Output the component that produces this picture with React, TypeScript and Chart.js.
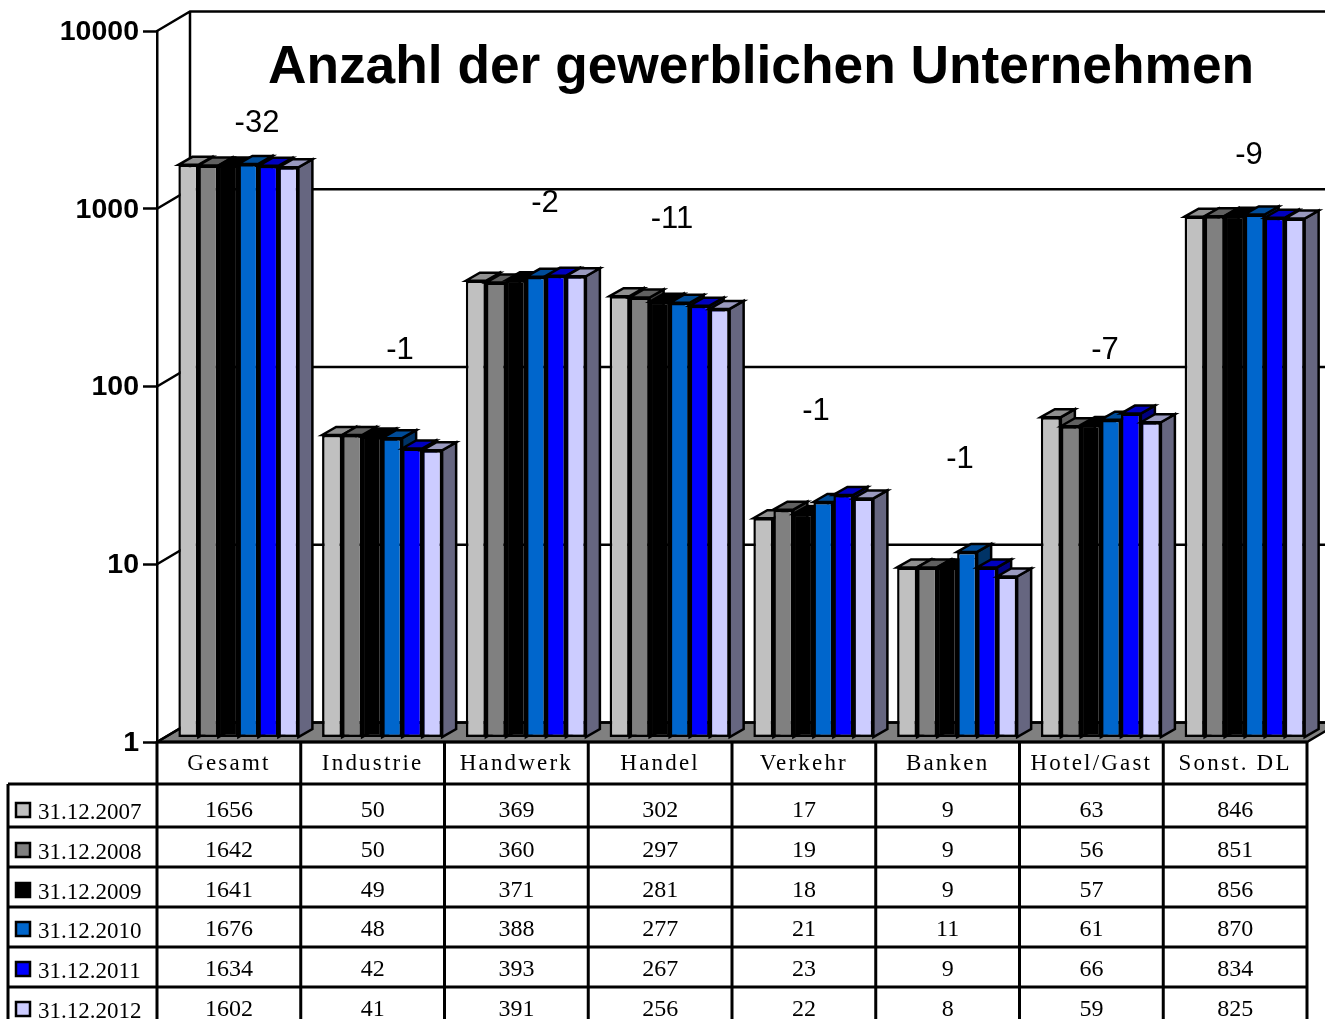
import React, { useEffect, useRef } from "react";
import { Chart, registerables } from "chart.js";

Chart.register(...registerables);

const categories = ["Gesamt", "Industrie", "Handwerk", "Handel", "Verkehr", "Banken", "Hotel/Gast", "Sonst. DL"];
const seriesNames = ["31.12.2007", "31.12.2008", "31.12.2009", "31.12.2010", "31.12.2011", "31.12.2012"];
const s2007 = [1656, 50, 369, 302, 17, 9, 63, 846];
const s2008 = [1642, 50, 360, 297, 19, 9, 56, 851];
const s2009 = [1641, 49, 371, 281, 18, 9, 57, 856];
const s2010 = [1676, 48, 388, 277, 21, 11, 61, 870];
const s2011 = [1634, 42, 393, 267, 23, 9, 66, 834];
const s2012 = [1602, 41, 391, 256, 22, 8, 59, 825];
const allSeries = [s2007, s2008, s2009, s2010, s2011, s2012];
const changes = ["-32", "-1", "-2", "-11", "-1", "-1", "-7", "-9"];
const yTicks = [1, 10, 100, 1000, 10000];
const titleText = "Anzahl der gewerblichen Unternehmen";

const frontColors = ["#C0C0C0", "#808080", "#000000", "#0066CC", "#0000FF", "#CCCCFF"];
const topColors = ["#909090", "#606060", "#000000", "#004C99", "#0000BF", "#9999BF"];
const sideColors = ["#606060", "#404040", "#000000", "#003366", "#000080", "#666680"];

// layout constants of the picture
const W = 1325;
const H = 1019;
const AREA_TOP = 31;
const AREA_BOTTOM = 742;
const AREA_RIGHT = 1307;
const AREA_LEFT = 157;
const WALL_DX = 33;
const WALL_DY = 19.5;
const BAR_DX = 9.5;
const BAR_DY = 5;
const BAR_DEPTH_X = 14;
const BAR_DEPTH_Y = 8;
const LINE = 2.5;
const TABLE_LINE = 3;
const TABLE_LEFT = 8;
const ROW_LINES = [784, 827, 867, 907, 947, 987, 1027];
const ROW_TEXT_Y = [811, 851, 891, 930, 970, 1010];
const LABEL_X = [257, 400, 545, 672, 816, 960, 1105, 1249];
const LABEL_Y = [123, 350, 203, 219, 411, 459, 350, 155];

const poly = (ctx: CanvasRenderingContext2D, pts: number[][], fill: string) => {
  ctx.beginPath();
  pts.forEach((p, i) => (i ? ctx.lineTo(p[0], p[1]) : ctx.moveTo(p[0], p[1])));
  ctx.closePath();
  ctx.fillStyle = fill;
  ctx.fill();
  ctx.lineWidth = LINE;
  ctx.strokeStyle = "#000";
  ctx.stroke();
};

const wallPlugin = {
  id: "wall",
  beforeDatasetsDraw(chart: any) {
    const { ctx, chartArea: a, scales } = chart;
    ctx.save();
    ctx.strokeStyle = "#000";
    ctx.lineWidth = LINE;
    poly(ctx, [
      [a.left, a.bottom],
      [a.left + WALL_DX, a.bottom - WALL_DY],
      [a.right + WALL_DX, a.bottom - WALL_DY],
      [a.right, a.bottom],
    ], "#808080");
    ctx.beginPath();
    ctx.moveTo(a.left + WALL_DX, a.top - WALL_DY);
    ctx.lineTo(a.left + WALL_DX, a.bottom - WALL_DY);
    yTicks.forEach((v) => {
      const y = scales.y.getPixelForValue(v);
      ctx.moveTo(a.left, y);
      ctx.lineTo(a.left + WALL_DX, y - WALL_DY);
      ctx.lineTo(a.right + WALL_DX, y - WALL_DY);
    });
    ctx.stroke();
    ctx.restore();
  },
  // bars are painted left to right below, so each front hides its neighbour's side
  beforeDatasetDraw() {
    return false;
  },
  afterDatasetsDraw(chart: any) {
    const ctx = chart.ctx;
    ctx.save();
    ctx.translate(BAR_DX, -BAR_DY);
    allSeries.forEach((_, i) => {
      chart.getDatasetMeta(i).data.forEach((bar: any) => {
        const r = bar.x + bar.width / 2;
        const l = bar.x - bar.width / 2;
        poly(ctx, [
          [r, bar.y],
          [r + BAR_DEPTH_X, bar.y - BAR_DEPTH_Y],
          [r + BAR_DEPTH_X, bar.base - BAR_DEPTH_Y],
          [r, bar.base],
        ], sideColors[i]);
        poly(ctx, [
          [l, bar.y],
          [l + BAR_DEPTH_X, bar.y - BAR_DEPTH_Y],
          [r + BAR_DEPTH_X, bar.y - BAR_DEPTH_Y],
          [r, bar.y],
        ], topColors[i]);
      });
      chart.getDatasetMeta(i).controller.draw();
    });
    ctx.restore();
  },
  afterDraw(chart: any) {
    const { ctx, chartArea: a, scales } = chart;
    ctx.save();
    // title and change labels
    ctx.fillStyle = "#000";
    ctx.textAlign = "center";
    ctx.textBaseline = "middle";
    ctx.font = "bold 53.3px 'Liberation Sans'";
    ctx.fillText(titleText, 761, 68);
    ctx.font = "31px 'Liberation Sans'";
    changes.forEach((t, i) => ctx.fillText(t, LABEL_X[i], LABEL_Y[i]));

    // data table
    ctx.strokeStyle = "#000";
    ctx.lineWidth = TABLE_LINE;
    ctx.beginPath();
    const cw = (a.right - a.left) / categories.length;
    for (let i = 0; i <= categories.length; i++) {
      const x = a.left + i * cw;
      ctx.moveTo(x, a.bottom);
      ctx.lineTo(x, H);
    }
    ctx.moveTo(TABLE_LEFT, ROW_LINES[0]);
    ctx.lineTo(TABLE_LEFT, H);
    ROW_LINES.forEach((y) => {
      ctx.moveTo(TABLE_LEFT, y);
      ctx.lineTo(a.right, y);
    });
    ctx.moveTo(a.left, a.bottom);
    ctx.lineTo(a.right, a.bottom);
    ctx.stroke();

    allSeries.forEach((vals, r) => {
      ctx.font = "24px 'Liberation Serif'";
      vals.forEach((v, c) => {
        ctx.fillText(String(v), scales.x.getPixelForTick(c), ROW_TEXT_Y[r]);
      });
      ctx.textAlign = "left";
      ctx.font = "23px 'Liberation Serif'";
      ctx.fillText(seriesNames[r], 38, ROW_TEXT_Y[r] + 2);
      ctx.textAlign = "center";
      ctx.fillStyle = frontColors[r];
      ctx.lineWidth = LINE;
      ctx.fillRect(16, ROW_TEXT_Y[r] - 8, 14, 14);
      ctx.strokeRect(16, ROW_TEXT_Y[r] - 8, 14, 14);
      ctx.fillStyle = "#000";
    });
    ctx.restore();
  },
};

export default function App() {
  const ref = useRef<HTMLCanvasElement>(null);
  useEffect(() => {
    const chart = new Chart(ref.current as HTMLCanvasElement, {
      type: "bar",
      data: {
        labels: categories,
        datasets: allSeries.map((data, i) => ({
          label: seriesNames[i],
          data,
          backgroundColor: frontColors[i],
          borderColor: "#000",
          borderWidth: LINE,
          borderSkipped: false,
          barPercentage: 1,
          categoryPercentage: 0.835,
          clip: false,
        })),
      },
      options: {
        responsive: false,
        animation: false,
        layout: {
          autoPadding: false,
          padding: { top: AREA_TOP, right: W - AREA_RIGHT, bottom: 0, left: 0 },
        },
        plugins: { legend: { display: false }, tooltip: { enabled: false } },
        scales: {
          x: {
            type: "category",
            grid: { display: false },
            border: { display: false },
            ticks: {
              color: "#000",
              padding: 0,
              maxRotation: 0,
              autoSkip: false,
              font: { family: "'Liberation Serif'", size: 23 },
            },
            afterFit(s: any) {
              s.height = H - AREA_BOTTOM;
            },
            afterUpdate(s: any) {
              const draw = s.drawLabels;
              s.drawLabels = function (ca: any) {
                s.ctx.save();
                s.ctx.letterSpacing = "2.2px";
                draw.call(s, ca);
                s.ctx.restore();
              };
            },
          },
          y: {
            type: "logarithmic",
            min: 1,
            max: 10000,
            afterBuildTicks(s: any) {
              s.ticks = yTicks.map((value) => ({ value }));
            },
            grid: { drawOnChartArea: false, drawTicks: true, tickLength: 14, tickWidth: LINE, tickColor: "#000" },
            border: { display: true, color: "#000", width: LINE },
            ticks: {
              color: "#000",
              padding: 4,
              labelOffset: 1,
              autoSkip: false,
              font: { family: "'Liberation Sans'", size: 28.5, weight: "bold" },
              callback: (v: any) => String(v),
            },
            afterFit(s: any) {
              s.width = AREA_LEFT;
            },
          },
        },
      } as any,
      plugins: [wallPlugin],
    });
    return () => chart.destroy();
  }, []);
  return (
    <canvas
      ref={ref}
      width={W}
      height={H}
      style={{ position: "fixed", left: 0, top: 0, width: W, height: H, display: "block" }}
    />
  );
}
